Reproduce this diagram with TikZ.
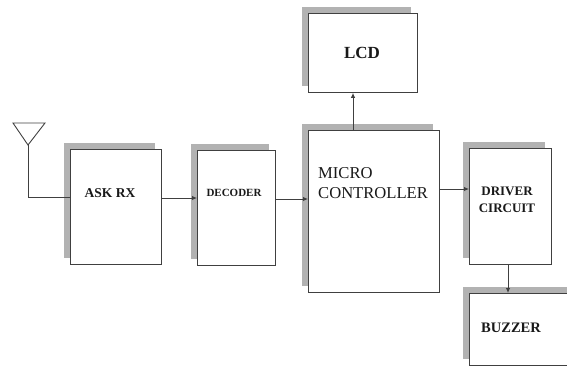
\documentclass[tikz,border=0pt]{standalone}
\usepackage{fontspec}
\setmainfont{Liberation Serif}
\usetikzlibrary{arrows.meta,shadows}
\begin{document}
\begin{tikzpicture}[x=1pt,y=-1pt,
  blk/.style={draw=black!75, line width=0.9pt, fill=white, anchor=north west, inner sep=0pt,
    general shadow={fill=black!30, shadow xshift=-6pt, shadow yshift=6pt}},
  lbl/.style={text=black!90, inner sep=0pt, font=\bfseries},
  arr/.style={draw=black!75, line width=0.9pt, -{Latex[length=5pt,width=4.5pt]}},
  wire/.style={draw=black!75, line width=0.9pt}]
\useasboundingbox (0,0) rectangle (567,367);
\clip (0,0) rectangle (567,367);
% boxes
\node[blk, minimum width=91pt, minimum height=115pt] (ask) at (70,149) {};
\node[blk, minimum width=78pt, minimum height=115pt] (dec) at (197,150) {};
\node[blk, minimum width=109pt, minimum height=79pt] (lcd) at (308,13) {};
\node[blk, minimum width=131pt, minimum height=162pt] (mc) at (308,130) {};
\node[blk, minimum width=82pt, minimum height=116pt] (drv) at (469,148) {};
\node[blk, minimum width=120pt, minimum height=72pt] (buz) at (469,293) {};
% labels
\node[lbl, font=\bfseries\fontsize{13.5}{15}\selectfont] (askt) at (110,193) {ASK RX};
\node[lbl, font=\bfseries\fontsize{11}{13}\selectfont] (dect) at (234,193) {DECODER};
\node[lbl, font=\bfseries\fontsize{17}{19}\selectfont] (lcdt) at (362,53) {LCD};
\node[lbl, font=\fontsize{16.6}{20}\selectfont, align=left, anchor=west] (mct) at (318,183) {MICRO\\CONTROLLER};
\node[lbl, font=\bfseries\fontsize{13}{17}\selectfont, align=center] (drvt) at (507,200) {DRIVER\\CIRCUIT};
\node[lbl, font=\bfseries\fontsize{14.5}{16}\selectfont] (buzt) at (511,328) {BUZZER};
% antenna
\coordinate (antA) at (13,123);
\coordinate (antB) at (45,123);
\coordinate (antC) at (28,145);
\draw[wire] (antA) -- (antB) -- (antC) -- cycle;
\draw[wire] (antC) |- (ask.west |- 0,197);
% connectors
\draw[arr] (ask.east |- 0,198) -- (dec.west |- 0,198);
\draw[arr] (dec.east |- 0,199) -- (mc.west |- 0,199);
\draw[arr] (mc.north -| 353,0) -- (lcd.south -| 353,0);
\draw[arr] (mc.east |- 0,189) -- (drv.west |- 0,189);
\draw[arr] (drv.south -| 508,0) -- (buz.north -| 508,0);
\end{tikzpicture}
\end{document}
